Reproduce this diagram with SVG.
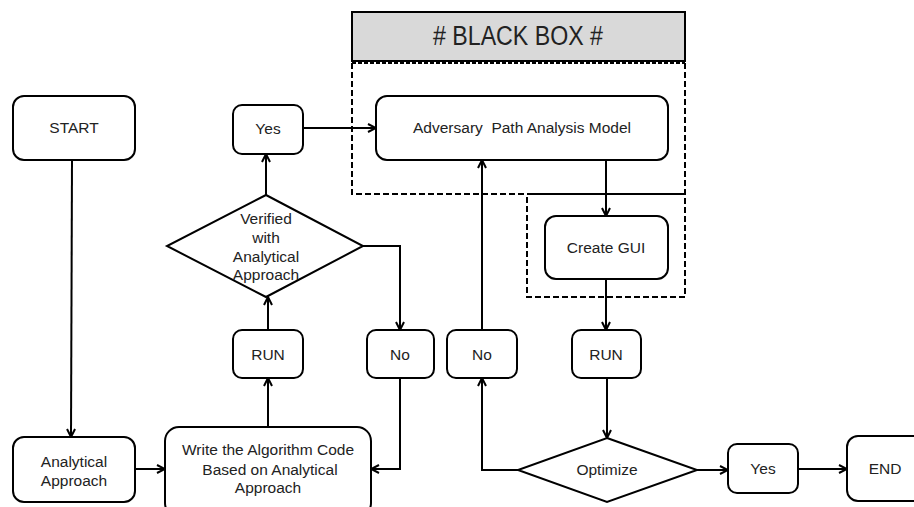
<svg xmlns="http://www.w3.org/2000/svg" width="914" height="507" viewBox="0 0 914 507">
  <defs>
    <marker id="arrow" viewBox="0 0 10 10" refX="9" refY="5" markerWidth="10" markerHeight="10" markerUnits="userSpaceOnUse" orient="auto">
      <path d="M1,1 L9,5 L1,9" fill="none" stroke="#000" stroke-width="2"/>
    </marker>
  </defs>
  <style>
    .box { fill: #fff; stroke: #000; stroke-width: 2; }
    .dec { fill: #fff; stroke: #000; stroke-width: 2; stroke-linejoin: miter; }
    .lbl { font-family: "Liberation Sans", Arial, sans-serif; font-size: 15.5px; fill: #222; text-anchor: middle; white-space: pre; }
    .edge { fill: none; stroke: #000; stroke-width: 2; }
    .arr { marker-end: url(#arrow); }
    .dash { fill: none; stroke: #000; stroke-width: 2; stroke-dasharray: 6 3; }
  </style>
  <rect width="914" height="507" fill="#fff"/>

  <!-- black box region -->
  <g id="blackbox">
    <rect x="352" y="12" width="333" height="49" fill="#d9d9d9" stroke="#000" stroke-width="2"/>
    <text x="518" y="45" font-family="Liberation Sans, Arial, sans-serif" font-size="27" fill="#222" text-anchor="middle" textLength="170" lengthAdjust="spacingAndGlyphs"># BLACK BOX #</text>
    <line x1="352" y1="63" x2="685" y2="63" stroke="#000" stroke-width="2" stroke-dasharray="4 2"/>
    <path class="dash" d="M352,63 V194 H527"/>
    <path class="dash" d="M685,63 V297 H527 V194"/>
    <line x1="527" y1="194" x2="685" y2="194" stroke="#000" stroke-width="2"/>
  </g>

  <!-- connectors -->
  <g id="connectors">
    <path class="edge arr" d="M72,160 L71,437"/>
    <path class="edge arr" d="M135,469 H165"/>
    <path class="edge arr" d="M268,427 V378"/>
    <path class="edge arr" d="M268,330 V297"/>
    <path class="edge arr" d="M266,195 V154"/>
    <path class="edge arr" d="M303,128 H376"/>
    <path class="edge arr" d="M363,246 H400 V330"/>
    <path class="edge arr" d="M400,378 V469 H371"/>
    <path class="edge arr" d="M606,160 V216"/>
    <path class="edge arr" d="M606,279 V330"/>
    <path class="edge arr" d="M607,378 V438"/>
    <path class="edge arr" d="M518,470 H482 V378"/>
    <path class="edge arr" d="M482,330 V160"/>
    <path class="edge arr" d="M697,470 H728"/>
    <path class="edge arr" d="M798,469 H847"/>
  </g>

  <g id="start">
    <rect class="box" x="13" y="96" width="122" height="64" rx="11"/>
    <text class="lbl" x="74" y="133">START</text>
  </g>
  <g id="analytical">
    <rect class="box" x="13" y="437" width="122" height="65" rx="11"/>
    <text class="lbl" x="74" y="467">Analytical</text>
    <text class="lbl" x="74" y="486">Approach</text>
  </g>
  <g id="write-code">
    <rect class="box" x="165" y="427" width="206" height="90" rx="14"/>
    <text class="lbl" x="268" y="455">Write the Algorithm Code</text>
    <text class="lbl" x="270" y="475">Based on Analytical</text>
    <text class="lbl" x="268" y="493">Approach</text>
  </g>
  <g id="run-1">
    <rect class="box" x="233" y="330" width="70" height="48" rx="9"/>
    <text class="lbl" x="268" y="360">RUN</text>
  </g>
  <g id="verified">
    <polygon class="dec" points="266,195 363,246 266,297 167,246"/>
    <text class="lbl" x="266" y="224">Verified</text>
    <text class="lbl" x="266" y="243">with</text>
    <text class="lbl" x="266" y="262">Analytical</text>
    <text class="lbl" x="266" y="280">Approach</text>
  </g>
  <g id="yes-1">
    <rect class="box" x="233" y="105" width="70" height="49" rx="9"/>
    <text class="lbl" x="268" y="134">Yes</text>
  </g>
  <g id="no-1">
    <rect class="box" x="367" y="330" width="67" height="48" rx="9"/>
    <text class="lbl" x="400" y="360">No</text>
  </g>
  <g id="adversary">
    <rect class="box" x="376" y="96" width="292" height="64" rx="11"/>
    <text class="lbl" x="522" y="133" xml:space="preserve">Adversary  Path Analysis Model</text>
  </g>
  <g id="create-gui">
    <rect class="box" x="545" y="216" width="123" height="63" rx="11"/>
    <text class="lbl" x="606" y="253">Create GUI</text>
  </g>
  <g id="no-2">
    <rect class="box" x="447" y="330" width="70" height="48" rx="9"/>
    <text class="lbl" x="482" y="360">No</text>
  </g>
  <g id="run-2">
    <rect class="box" x="572" y="330" width="69" height="48" rx="9"/>
    <text class="lbl" x="606" y="360">RUN</text>
  </g>
  <g id="optimize">
    <polygon class="dec" points="607,438 697,470 607,502 518,470"/>
    <text class="lbl" x="607" y="475">Optimize</text>
  </g>
  <g id="yes-2">
    <rect class="box" x="728" y="444" width="70" height="49" rx="9"/>
    <text class="lbl" x="763" y="474">Yes</text>
  </g>
  <g id="end">
    <rect class="box" x="847" y="436" width="80" height="65" rx="11"/>
    <text class="lbl" x="885" y="474">END</text>
  </g>
</svg>
